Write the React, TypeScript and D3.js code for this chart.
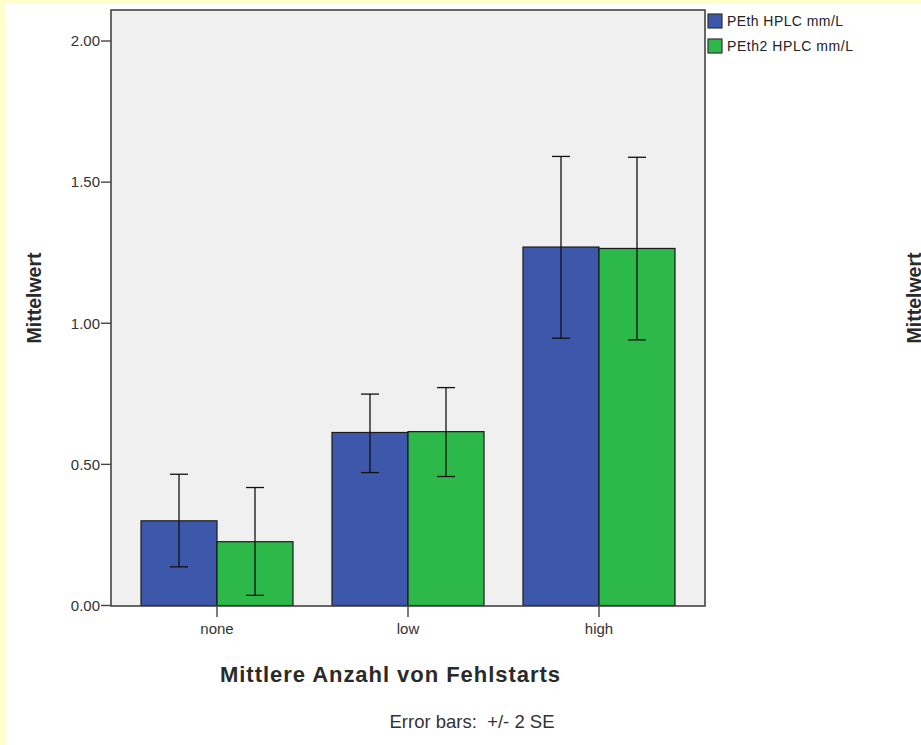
import * as d3 from 'd3';
import React from 'react';

// values
const categories = ['none', 'low', 'high'];
const seriesNames = ['PEth HPLC mm/L', 'PEth2 HPLC mm/L'];
const seriesColors = ['#3d58ab', '#2db84a'];
const meanPEth = [0.30, 0.613, 1.27];
const meanPEth2 = [0.226, 0.616, 1.265];
const lowPEth = [0.137, 0.471, 0.947];
const highPEth = [0.465, 0.749, 1.591];
const lowPEth2 = [0.036, 0.457, 0.941];
const highPEth2 = [0.418, 0.772, 1.588];
const yTicks = [0, 0.5, 1, 1.5, 2];

const W = 921;
const H = 745;
const plot = { left: 111, right: 705, top: 10, bottom: 606 };

function App() {
    const x0 = d3.scaleBand<string>()
        .domain(categories)
        .range([plot.left, plot.right])
        .paddingInner(0)
        .paddingOuter(0.055);
    const pairWidth = 152;
    const x1 = d3.scaleBand<number>()
        .domain([0, 1])
        .range([0, pairWidth]);
    const y = d3.scaleLinear().domain([0, 2]).range([605.5, 41]);

    const rows = categories.map((c, i) => ({
        cat: c,
        vals: [
            { s: 0, mean: meanPEth[i], lo: lowPEth[i], hi: highPEth[i] },
            { s: 1, mean: meanPEth2[i], lo: lowPEth2[i], hi: highPEth2[i] },
        ],
    }));

    const center = (c: string) => (x0(c) ?? 0) + x0.bandwidth() / 2;
    const font = 'Arial, "Liberation Sans", sans-serif';
    const legendWidths = [116, 126];

    return (
        <div style={{ position: 'absolute', left: 0, top: 0 }}>
            <svg width={W} height={H} style={{ display: 'block' }} fontFamily={font}>
                <rect x={0} y={0} width={W} height={H} fill="#ffffcc" />
                <rect x={6} y={4} width={W - 6} height={H - 4} fill="#ffffff" />

                <rect x={plot.left} y={plot.top} width={plot.right - plot.left} height={plot.bottom - plot.top}
                    fill="#f0f0f0" />

                {rows.map(r => (
                    <g key={r.cat}>
                        {r.vals.map(v => {
                            const bx = center(r.cat) - pairWidth / 2 + (x1(v.s) ?? 0);
                            const cx = bx + x1.bandwidth() / 2;
                            return (
                                <g key={v.s}>
                                    <rect x={bx} y={y(v.mean)} width={x1.bandwidth()} height={y(0) - y(v.mean)}
                                        fill={seriesColors[v.s]} stroke="#1a1a1a" strokeWidth={1.2} />
                                    <line x1={cx} x2={cx} y1={y(v.hi)} y2={y(v.lo)} stroke="#111" strokeWidth={1.3} />
                                    <line x1={cx - 9} x2={cx + 9} y1={y(v.hi)} y2={y(v.hi)} stroke="#111" strokeWidth={1.3} />
                                    <line x1={cx - 9} x2={cx + 9} y1={y(v.lo)} y2={y(v.lo)} stroke="#111" strokeWidth={1.3} />
                                </g>
                            );
                        })}
                    </g>
                ))}

                <rect x={plot.left} y={plot.top} width={plot.right - plot.left} height={plot.bottom - plot.top}
                    fill="none" stroke="#444" strokeWidth={1.6} />

                {yTicks.map(t => (
                    <g key={t}>
                        <line x1={plot.left - 10} x2={plot.left} y1={y(t)} y2={y(t)} stroke="#444" strokeWidth={1.4} />
                        <text x={plot.left - 11} y={y(t)} dy="0.35em" textAnchor="end" fontSize={15} fill="#333">
                            {d3.format('.2f')(t)}
                        </text>
                    </g>
                ))}

                {categories.map(c => (
                    <g key={c}>
                        <line x1={center(c)} x2={center(c)} y1={plot.bottom} y2={plot.bottom + 11} stroke="#444" strokeWidth={1.4} />
                        <text x={center(c)} y={629} dy="0.35em" textAnchor="middle" fontSize={15} fill="#333">{c}</text>
                    </g>
                ))}

                <text x={390} y={674} dy="0.35em" textAnchor="middle" fontSize={22} fontWeight="bold" fill="#2a2a2a"
                    textLength={340} lengthAdjust="spacing">Mittlere Anzahl von Fehlstarts</text>

                <text transform="translate(34,298) rotate(-90)" dy="0.35em" textAnchor="middle" fontSize={19.5}
                    fontWeight="bold" fill="#2a2a2a">Mittelwert</text>
                <text transform="translate(914,298) rotate(-90)" dy="0.35em" textAnchor="middle" fontSize={19.5}
                    fontWeight="bold" fill="#2a2a2a">Mittelwert</text>

                <text x={472} y={722} dy="0.35em" textAnchor="middle" fontSize={18.5} fill="#333" xmlSpace="preserve">
                    Error bars:  +/- 2 SE
                </text>

                {seriesNames.map((s, i) => (
                    <g key={s} transform={`translate(708,${14 + i * 25})`}>
                        <rect x={0} y={0} width={14} height={14} fill={seriesColors[i]} stroke="#333" strokeWidth={1.2} />
                        <text x={19} y={7} dy="0.35em" fontSize={14} fill="#222"
                            textLength={legendWidths[i]} lengthAdjust="spacing">{s}</text>
                    </g>
                ))}
            </svg>
        </div>
    );
}

export default App;
